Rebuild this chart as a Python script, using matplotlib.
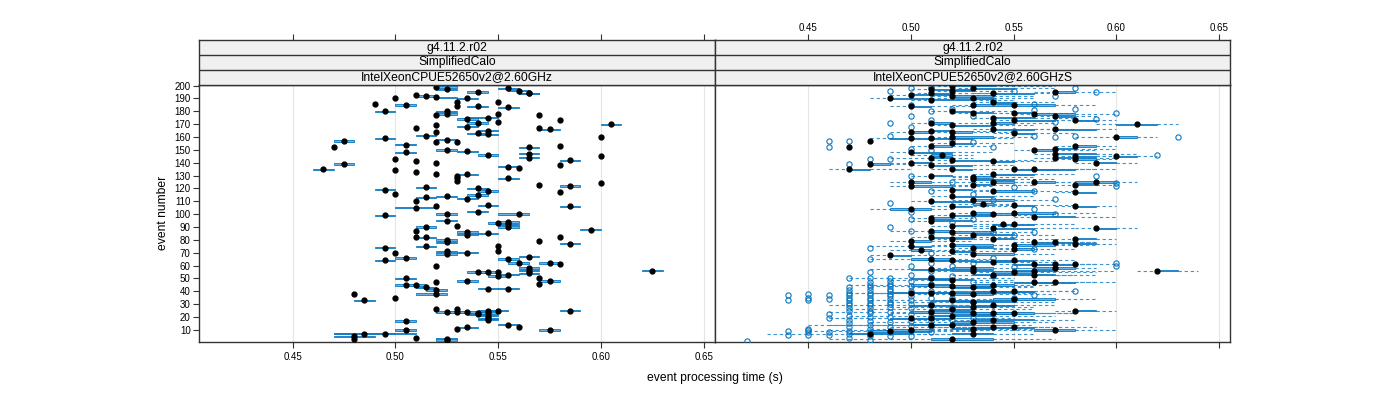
import numpy as np
import matplotlib.pyplot as plt
from matplotlib.collections import LineCollection
from matplotlib.patches import Rectangle

plt.rcParams['font.family'] = ['Liberation Sans', 'DejaVu Sans']

# ---- left panel: IntelXeonCPUE52650v2@2.60GHz (median + box, seconds) ----
l_ev = [157, 152, 139, 135, 38, 33, 186, 180, 159, 190, 185, 193, 192, 191, 199, 197, 195, 190, 187, 184,
        184, 177, 180, 178, 187, 178, 172, 198, 196, 194, 183, 174, 175, 171, 169, 164, 161, 167, 168, 163,
        165, 162, 156, 158, 156, 154, 148, 141, 143, 134, 133, 140, 131, 150, 149, 146, 130, 128, 126, 131,
        120, 118, 115, 107, 102, 121, 113, 110, 105, 106, 114, 112, 119, 116, 99, 87, 90, 82, 75, 82,
        100, 95, 91, 86, 84, 85, 80, 78, 71, 69, 70, 74, 64, 70, 66, 60, 75, 71, 93, 94,
        92, 90, 100, 55, 55, 52, 55, 48, 42, 53, 42, 65, 62, 67, 58, 56, 54, 79, 123, 136,
        137, 128, 152, 147, 144, 167, 25, 14, 12, 25, 23, 21, 19, 18, 23, 22, 24, 12, 26, 24,
        11, 24, 3, 41, 38, 26, 47, 43, 45, 50, 45, 17, 10, 35, 4, 7, 7, 5, 3, 2,
        194, 177, 173, 166, 170, 160, 153, 142, 145, 138, 124, 122, 117, 106, 88, 82, 77, 62, 61, 56,
        50, 46, 48, 25, 10]
l_med = [0.475, 0.470, 0.475, 0.465, 0.480, 0.485, 0.490, 0.495, 0.495, 0.500, 0.505, 0.510, 0.515, 0.520, 0.520, 0.525, 0.540, 0.535, 0.530, 0.530,
         0.540, 0.520, 0.525, 0.525, 0.550, 0.550, 0.550, 0.555, 0.560, 0.565, 0.555, 0.535, 0.545, 0.540, 0.520, 0.520, 0.515, 0.510, 0.535, 0.540,
         0.545, 0.545, 0.520, 0.525, 0.530, 0.505, 0.505, 0.510, 0.500, 0.500, 0.510, 0.520, 0.520, 0.525, 0.535, 0.545, 0.530, 0.530, 0.530, 0.535,
         0.540, 0.545, 0.540, 0.545, 0.540, 0.515, 0.515, 0.510, 0.510, 0.520, 0.525, 0.535, 0.495, 0.500, 0.495, 0.510, 0.515, 0.515, 0.515, 0.510,
         0.525, 0.525, 0.530, 0.535, 0.535, 0.545, 0.525, 0.525, 0.525, 0.525, 0.535, 0.495, 0.495, 0.500, 0.505, 0.520, 0.550, 0.550, 0.550, 0.555,
         0.555, 0.555, 0.560, 0.545, 0.550, 0.550, 0.540, 0.535, 0.545, 0.555, 0.555, 0.555, 0.560, 0.565, 0.565, 0.565, 0.565, 0.570, 0.570, 0.560,
         0.555, 0.555, 0.565, 0.565, 0.565, 0.570, 0.550, 0.555, 0.560, 0.545, 0.545, 0.545, 0.545, 0.545, 0.540, 0.540, 0.535, 0.535, 0.530, 0.530,
         0.530, 0.525, 0.525, 0.520, 0.520, 0.520, 0.520, 0.515, 0.510, 0.505, 0.505, 0.505, 0.505, 0.500, 0.510, 0.495, 0.485, 0.480, 0.480, 0.525,
         0.565, 0.570, 0.580, 0.575, 0.605, 0.600, 0.580, 0.585, 0.600, 0.580, 0.600, 0.585, 0.580, 0.585, 0.595, 0.580, 0.585, 0.575, 0.580, 0.625,
         0.570, 0.570, 0.575, 0.585, 0.575]
l_q1 = [0.470, 0.470, 0.470, 0.460, 0.480, 0.480, 0.490, 0.490, 0.490, 0.500, 0.500, 0.510, 0.510, 0.520, 0.520, 0.520, 0.535, 0.530, 0.530, 0.530,
        0.535, 0.520, 0.520, 0.520, 0.550, 0.550, 0.550, 0.550, 0.555, 0.560, 0.550, 0.530, 0.535, 0.535, 0.520, 0.520, 0.510, 0.510, 0.530, 0.535,
        0.540, 0.540, 0.520, 0.520, 0.530, 0.500, 0.500, 0.510, 0.500, 0.500, 0.510, 0.520, 0.520, 0.520, 0.530, 0.540, 0.530, 0.530, 0.530, 0.530,
        0.535, 0.540, 0.535, 0.540, 0.535, 0.510, 0.510, 0.510, 0.500, 0.520, 0.520, 0.530, 0.490, 0.500, 0.490, 0.510, 0.510, 0.510, 0.510, 0.510,
        0.520, 0.520, 0.530, 0.530, 0.530, 0.540, 0.520, 0.520, 0.520, 0.520, 0.530, 0.490, 0.490, 0.500, 0.500, 0.520, 0.550, 0.550, 0.545, 0.550,
        0.550, 0.550, 0.550, 0.540, 0.550, 0.545, 0.535, 0.530, 0.540, 0.550, 0.550, 0.550, 0.555, 0.560, 0.560, 0.560, 0.560, 0.570, 0.570, 0.560,
        0.550, 0.550, 0.560, 0.560, 0.560, 0.570, 0.545, 0.550, 0.560, 0.540, 0.540, 0.540, 0.540, 0.540, 0.535, 0.535, 0.530, 0.530, 0.530, 0.525,
        0.530, 0.520, 0.520, 0.515, 0.510, 0.520, 0.520, 0.510, 0.505, 0.500, 0.500, 0.500, 0.500, 0.500, 0.510, 0.470, 0.470, 0.470, 0.480, 0.520,
        0.560, 0.570, 0.580, 0.570, 0.600, 0.600, 0.580, 0.580, 0.600, 0.580, 0.600, 0.580, 0.580, 0.580, 0.590, 0.580, 0.580, 0.570, 0.580, 0.620,
        0.570, 0.570, 0.570, 0.580, 0.570]
l_q3 = [0.480, 0.470, 0.480, 0.470, 0.480, 0.490, 0.490, 0.500, 0.500, 0.500, 0.510, 0.510, 0.520, 0.530, 0.530, 0.530, 0.545, 0.540, 0.530, 0.530,
        0.545, 0.520, 0.530, 0.530, 0.550, 0.550, 0.550, 0.560, 0.565, 0.570, 0.560, 0.540, 0.550, 0.545, 0.520, 0.520, 0.520, 0.510, 0.540, 0.545,
        0.550, 0.550, 0.520, 0.530, 0.530, 0.510, 0.510, 0.510, 0.500, 0.500, 0.510, 0.520, 0.520, 0.530, 0.540, 0.550, 0.530, 0.530, 0.530, 0.540,
        0.545, 0.550, 0.545, 0.550, 0.545, 0.520, 0.520, 0.510, 0.520, 0.520, 0.530, 0.540, 0.500, 0.500, 0.500, 0.510, 0.520, 0.520, 0.520, 0.510,
        0.530, 0.530, 0.530, 0.540, 0.540, 0.550, 0.530, 0.530, 0.530, 0.530, 0.540, 0.500, 0.500, 0.500, 0.510, 0.520, 0.550, 0.550, 0.555, 0.560,
        0.560, 0.560, 0.565, 0.550, 0.550, 0.555, 0.545, 0.540, 0.550, 0.560, 0.560, 0.560, 0.565, 0.570, 0.570, 0.570, 0.570, 0.570, 0.570, 0.560,
        0.560, 0.560, 0.570, 0.570, 0.570, 0.570, 0.555, 0.560, 0.560, 0.550, 0.550, 0.550, 0.550, 0.550, 0.545, 0.545, 0.540, 0.540, 0.530, 0.535,
        0.530, 0.530, 0.530, 0.525, 0.525, 0.520, 0.520, 0.520, 0.515, 0.510, 0.510, 0.510, 0.510, 0.500, 0.510, 0.510, 0.500, 0.490, 0.480, 0.530,
        0.570, 0.570, 0.580, 0.580, 0.610, 0.600, 0.580, 0.590, 0.600, 0.580, 0.600, 0.590, 0.580, 0.590, 0.600, 0.580, 0.590, 0.580, 0.580, 0.630,
        0.570, 0.570, 0.580, 0.590, 0.580]

# ---- right panel: IntelXeonCPUE52650v2@2.60GHzS (hundredths of a second) ----
r_ev = [152, 135, 157, 139, 7, 190, 68, 9,
        193, 184, 164, 159, 148, 140, 125, 122, 104, 79, 75, 39, 19, 10, 72,
        197, 194, 189, 171, 165, 159, 153, 144, 138, 130, 110, 97, 95, 87, 82, 65, 57, 50, 45, 39, 29, 24, 19, 14, 146,
        200, 196, 192, 180, 169, 164, 160, 155, 142, 135, 119, 114, 106, 99, 91, 86, 81, 76, 71, 64, 49, 44, 39, 33, 26, 21, 14, 3,
        198, 190, 185, 179, 129, 127, 123, 111, 101, 84, 74, 69, 58, 56, 43, 38, 32, 28, 23, 16, 11, 7, 108,
        194, 187, 175, 171, 166, 141, 131, 125, 118, 100, 89, 81, 63, 53, 45, 40, 29, 23, 18, 12, 92,
        185, 179, 173, 163, 135, 107, 101, 92, 76, 73, 64, 55, 40, 34, 23, 12,
        178, 150, 135, 125, 98, 78, 61, 56, 53, 47,
        195, 176, 166, 151, 147, 144, 78, 61, 58, 47, 10,
        173, 153, 145, 143, 123, 117, 106, 81, 77, 61, 25,
        140, 125, 89, 160, 145, 170, 56]
r_med = [47, 47, 48, 48, 48, 49, 49, 49,
         50, 50, 50, 50, 50, 50, 50, 50, 50, 50, 50, 50, 50, 50, 50.5,
         51, 51, 51, 51, 51, 51, 51, 51, 51, 51, 51, 51, 51, 51, 51, 51, 51, 51, 51, 51, 51, 51, 51, 51, 51.5,
         52, 52, 52, 52, 52, 52, 52, 52, 52, 52, 52, 52, 52, 52, 52, 52, 52, 52, 52, 52, 52, 52, 52, 52, 52, 52, 52, 52,
         53, 53, 53, 53, 53, 53, 53, 53, 53, 53, 53, 53, 53, 53, 53, 53, 53, 53, 53, 53, 53, 53, 53.5,
         54, 54, 54, 54, 54, 54, 54, 54, 54, 54, 54, 54, 54, 54, 54, 54, 54, 54, 54, 54, 54.5,
         55, 55, 55, 55, 55, 55, 55, 55, 55, 55, 55, 55, 55, 55, 55, 55,
         56, 56, 56, 56, 56, 56, 56, 56, 56, 56,
         57, 57, 57, 57, 57, 57, 57, 57, 57, 57, 57,
         58, 58, 58, 58, 58, 58, 58, 58, 58, 58, 58,
         59, 59, 59, 60, 60, 61, 62]
r_q1 = [47, 47, 48, 48, 47, 49, 49, 48,
        50, 50, 50, 49, 50, 50, 50, 50, 49, 50, 50, 49, 49, 49, 50,
        51, 51, 51, 51, 51, 51, 51, 51, 51, 51, 51, 51, 51, 51, 51, 50, 50, 50, 50, 50, 50, 50, 50, 50, 51,
        52, 52, 52, 52, 52, 52, 52, 52, 52, 52, 52, 52, 52, 52, 52, 52, 52, 52, 52, 51, 51, 51, 51, 51, 51, 51, 51, 51,
        53, 53, 53, 53, 53, 53, 53, 53, 53, 53, 53, 53, 52, 52, 52, 52, 52, 52, 52, 52, 52, 52, 53,
        54, 54, 54, 54, 54, 54, 54, 54, 54, 54, 54, 54, 53, 53, 53, 53, 53, 53, 53, 53, 54,
        55, 55, 55, 55, 55, 55, 55, 55, 55, 55, 54, 54, 54, 54, 54, 54,
        56, 56, 56, 56, 56, 56, 55, 55, 55, 55,
        57, 57, 57, 57, 57, 57, 57, 56, 56, 56, 56,
        58, 58, 58, 58, 58, 58, 58, 58, 58, 58, 58,
        59, 58, 59, 60, 60, 60, 62]
r_q3 = [47, 48, 48, 49, 50, 51, 50, 51,
        52, 51, 51, 51, 52, 51, 51, 52, 51, 51, 51, 51, 51, 51, 51,
        53, 52, 53, 52, 52, 53, 52, 52, 53, 52, 53, 52, 53, 52, 53, 52, 52, 52, 52, 52, 52, 53, 52, 52, 52,
        54, 53, 54, 53, 54, 53, 54, 53, 54, 53, 53, 54, 53, 54, 53, 54, 53, 54, 53, 53, 53, 54, 53, 54, 53, 54, 53, 54,
        55, 54, 55, 54, 54, 55, 54, 55, 54, 55, 54, 55, 54, 54, 54, 54, 55, 54, 54, 55, 54, 54, 54,
        56, 55, 56, 55, 56, 55, 56, 55, 56, 55, 56, 55, 55, 55, 55, 56, 55, 55, 56, 55, 55,
        57, 56, 57, 56, 57, 56, 57, 56, 57, 56, 56, 56, 56, 57, 56, 56,
        58, 57, 58, 57, 58, 57, 57, 57, 57, 57,
        58, 58, 59, 58, 59, 58, 58, 58, 58, 58, 58,
        59, 59, 59, 59, 59, 59, 59, 59, 59, 58, 59,
        60, 60, 60, 61, 61, 62, 63]
r_lo = [47, 46, 48, 48, 43, 48, 48, 45,
        49, 49, 49, 48, 49, 49, 49, 49, 48, 49, 48, 47, 46, 46, 49,
        50, 50, 50, 50, 50, 50, 50, 49, 50, 50, 50, 50, 50, 49, 50, 48, 48, 47, 47, 47, 46, 46, 46, 45, 50,
        51, 51, 51, 51, 51, 51, 51, 51, 51, 51, 51, 51, 51, 51, 51, 51, 51, 51, 50, 50, 49, 48, 48, 48, 47, 47, 46, 46,
        52, 52, 52, 52, 52, 52, 52, 52, 52, 52, 52, 52, 51, 51, 50, 50, 49, 49, 49, 48, 48, 47, 52,
        53, 53, 53, 53, 53, 53, 53, 53, 53, 53, 53, 53, 52, 52, 51, 51, 50, 50, 50, 49, 53,
        54, 54, 54, 54, 54, 54, 54, 54, 54, 54, 53, 53, 52, 52, 51, 51,
        55, 55, 55, 55, 55, 55, 54, 54, 53, 53,
        56, 56, 56, 56, 56, 56, 56, 55, 55, 55, 53,
        57, 57, 57, 57, 57, 57, 57, 57, 57, 57, 57,
        58, 57, 58, 58, 59, 59, 61]
r_hi = [47, 50, 48, 50, 52, 53, 52, 53,
        54, 53, 52, 53, 54, 52, 53, 54, 52, 53, 52, 53, 54, 54, 53,
        55, 54, 55, 53, 54, 55, 54, 53, 55, 54, 55, 53, 54, 54, 55, 54, 54, 55, 54, 55, 55, 56, 55, 55, 53,
        57, 55, 56, 55, 56, 55, 56, 55, 56, 54, 55, 56, 55, 56, 55, 56, 55, 56, 55, 55, 55, 56, 56, 57, 56, 57, 56, 57,
        57, 56, 57, 56, 56, 57, 56, 57, 56, 57, 56, 57, 56, 57, 56, 57, 57, 56, 57, 57, 57, 56, 55,
        58, 57, 58, 57, 58, 57, 58, 57, 58, 57, 58, 57, 57, 58, 57, 58, 57, 58, 58, 57, 56,
        59, 58, 59, 58, 59, 58, 59, 58, 59, 58, 58, 59, 58, 59, 58, 59,
        60, 59, 60, 59, 60, 59, 59, 60, 59, 59,
        60, 59, 60, 60, 61, 60, 59, 60, 59, 60, 60,
        60, 60, 60, 60, 60, 59, 60, 60, 60, 59, 60,
        61, 61, 61, 62, 62, 63, 64]

# outliers (open circles): event number and time in hundredths
o_ev = [1,
        37, 33, 9, 6,
        38, 35, 33, 11, 10, 8, 6,
        37, 34, 22, 19, 8, 6, 157, 152,
        157, 139, 50, 43, 41, 39, 37, 35, 33, 31, 29, 27, 25, 21, 18, 15, 12, 9, 7, 4,
        143, 74, 65, 55, 50, 47, 45, 43, 41, 39, 37, 35, 33, 31, 29, 27, 25, 23, 20, 17, 14, 11, 8, 5, 2,
        196, 171, 161, 143, 109, 90, 50, 48, 46, 44, 42, 40, 38, 36, 34, 32, 30, 28, 24, 20, 16, 12, 8, 5,
        198, 185, 176, 168, 151, 130, 102, 96, 87, 60, 53, 48, 44, 40, 36, 33, 30, 27, 22, 17, 13, 9, 5,
        199, 180, 173, 150, 118, 85, 70, 62, 56, 51, 46, 40, 35, 30, 25, 21, 17, 13, 8,
        182, 158, 125, 94, 60, 52, 35, 28, 18,
        176, 156, 116, 96, 62, 47, 32, 19,
        189, 152, 111, 86, 66, 52,
        196, 165, 121, 84, 59, 35,
        186, 181, 161, 118, 104, 86, 73, 37,
        192, 172, 160, 112, 100,
        198, 182, 161, 40,
        195, 174, 130,
        179, 124, 122, 62, 60,
        146, 160]
o_t = [42,
       44, 44, 44, 44,
       45, 45, 45, 45, 45, 45, 45,
       46, 46, 46, 46, 46, 46, 46, 46,
       47, 47, 47, 47, 47, 47, 47, 47, 47, 47, 47, 47, 47, 47, 47, 47, 47, 47, 47, 47,
       48, 48, 48, 48, 48, 48, 48, 48, 48, 48, 48, 48, 48, 48, 48, 48, 48, 48, 48, 48, 48, 48, 48, 48, 48,
       49, 49, 49, 49, 49, 49, 49, 49, 49, 49, 49, 49, 49, 49, 49, 49, 49, 49, 49, 49, 49, 49, 49, 49,
       50, 50, 50, 50, 50, 50, 50, 50, 50, 50, 50, 50, 50, 50, 50, 50, 50, 50, 50, 50, 50, 50, 50,
       51, 51, 51, 51, 51, 51, 51, 51, 51, 51, 51, 51, 51, 51, 51, 51, 51, 51, 51,
       52, 52, 52, 52, 52, 52, 52, 52, 52,
       53, 53, 53, 53, 53, 53, 53, 53,
       54, 54, 54, 54, 54, 54,
       55, 55, 55, 55, 55, 55,
       56, 56, 56, 56, 56, 56, 56, 56,
       57, 57, 57, 57, 57,
       58, 58, 58, 58,
       59, 59, 59,
       60, 60, 60, 60, 60,
       62, 63]

titles = ['g4.11.2.r02', 'SimplifiedCalo']
cpus = ['IntelXeonCPUE52650v2@2.60GHz', 'IntelXeonCPUE52650v2@2.60GHzS']
xticks = [0.45, 0.50, 0.55, 0.60, 0.65]
yticks = list(range(10, 201, 10))

BLUE = '#0a78c2'
DASH = '#3d93d0'
EDGE = '#333333'
XLIM = (0.4045, 0.6555)
YLIM = (0.6, 200.5)
HALF = 0.55  # half height of a box, in event units


def draw_boxes(ax, ev, q1, q3):
    for e, a, b in zip(ev, q1, q3):
        ax.add_patch(Rectangle((a, e - HALF), b - a, 2 * HALF, facecolor='#6fb0de',
                               edgecolor=BLUE, lw=0.6, zorder=3))


fig = plt.figure(figsize=(14, 4), dpi=100)
W, H = 1400, 400
panels = [(199, 715), (715, 1230)]
axes = []
for i, (x0, x1) in enumerate(panels):
    ax = fig.add_axes([x0 / W, 1 - 342 / H, (x1 - x0) / W, (342 - 85) / H])
    ax.set_xlim(*XLIM)
    ax.set_ylim(*YLIM)
    for t in xticks:
        ax.axvline(t, color='#e6e6e6', lw=0.8, zorder=0)
    for s in ax.spines.values():
        s.set_color(EDGE)
        s.set_linewidth(1.0)
    ax.set_xticks(xticks)
    ax.tick_params(axis='x', direction='out', length=4, width=0.8, color=EDGE,
                   labelsize=7, pad=3, labelbottom=(i == 0))
    if i == 0:
        ax.set_yticks(yticks)
        ax.tick_params(axis='y', direction='out', length=4, width=0.8, color=EDGE,
                       labelsize=7, pad=2)
    else:
        ax.set_yticks([])
    axes.append(ax)

    # strips above the panel
    sx = fig.add_axes([x0 / W, 1 - 85 / H, (x1 - x0) / W, 45 / H])
    sx.set_xlim(*XLIM)
    sx.set_ylim(0, 3)
    sx.set_facecolor('#f0f0f0')
    for s in sx.spines.values():
        s.set_color(EDGE)
        s.set_linewidth(1.0)
    for yl in (1, 2):
        sx.axhline(yl, color=EDGE, lw=1.0)
    labels = [titles[0], titles[1], cpus[i]]
    for k, lab in enumerate(labels):
        sx.text((XLIM[0] + XLIM[1]) / 2, 2.5 - k, lab, ha='center', va='center', fontsize=8.7)
    sx.set_yticks([])
    sx.set_xticks(xticks)
    sx.xaxis.tick_top()
    sx.tick_params(axis='x', direction='out', length=4, width=0.8, color=EDGE,
                   labelsize=7, pad=1, labeltop=(i == 1), labelbottom=False, bottom=False)

axl, axr = axes

# left panel
draw_boxes(axl, l_ev, l_q1, l_q3)
axl.plot(l_med, l_ev, 'o', color='black', ms=3.5, zorder=4)

# right panel
r_med_s = np.array(r_med) / 100
r_q1_s = np.array(r_q1) / 100
r_q3_s = np.array(r_q3) / 100
r_lo_s = np.array(r_lo) / 100
r_hi_s = np.array(r_hi) / 100
r_ev_a = np.array(r_ev)
segs = []
for e, lo, a, b, hi in zip(r_ev_a, r_lo_s, r_q1_s, r_q3_s, r_hi_s):
    if lo < a:
        segs.append([(lo, e), (a, e)])
    if hi > b:
        segs.append([(b, e), (hi, e)])
axr.add_collection(LineCollection(segs, colors=DASH, linewidths=0.8,
                                  linestyles=(0, (3, 2.5)), zorder=2))
draw_boxes(axr, r_ev, r_q1_s, r_q3_s)
axr.plot(np.array(o_t) / 100, o_ev, 'o', mfc='none', mec=BLUE, mew=0.8, ms=3.8, zorder=3)
axr.plot(r_med_s, r_ev_a, 'o', color='black', ms=3.5, zorder=4)

fig.text(163 / W, 1 - 213 / H, 'event number', rotation=90, ha='center', va='center', fontsize=8.7)
fig.text(715 / W, 1 - 378 / H, 'event processing time (s)', ha='center', va='center', fontsize=8.7)

fig.savefig('out.png', dpi=100)
